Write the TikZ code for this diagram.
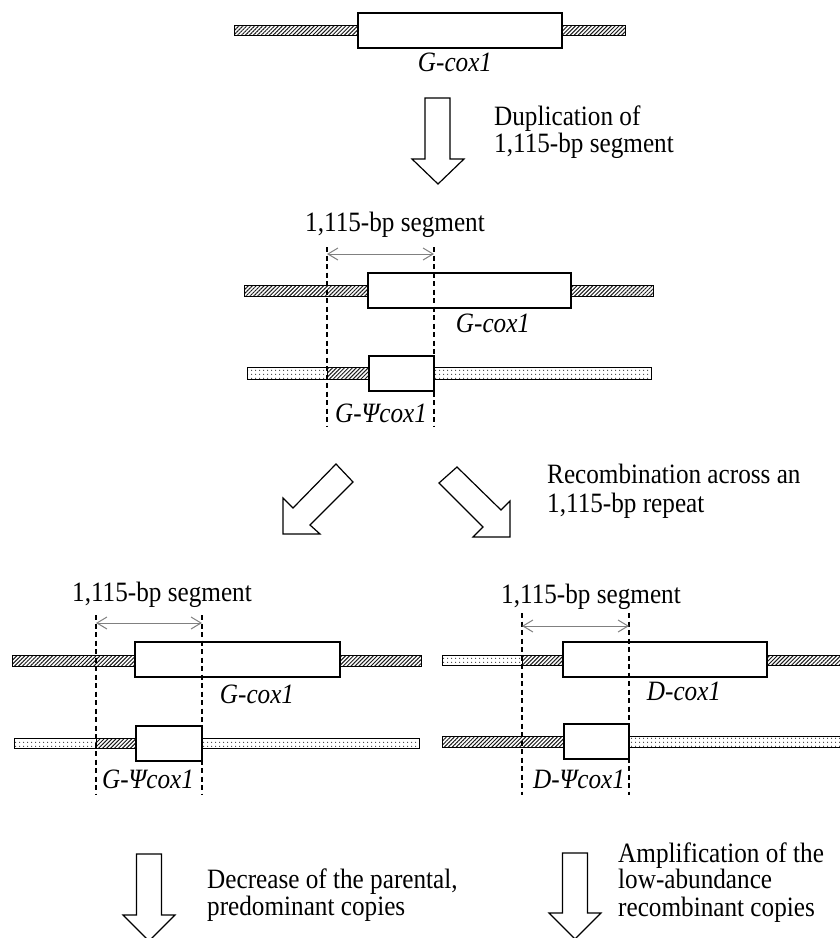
\documentclass[tikz,border=0pt]{standalone}
\usepackage{fontspec}
\setmainfont{Liberation Serif}[FakeStretch=0.9]
\usetikzlibrary{patterns.meta,arrows.meta}
\tikzset{
  hatchfill/.style={pattern={Lines[angle=45,distance=2.8pt,line width=1pt]},pattern color=black!90},
  dotfill/.style={pattern={Dots[distance=4pt,radius=0.75pt]},pattern color=black!75},
  barline/.style={draw=black,line width=1pt},
  genebox/.style={draw=black,fill=white,line width=1.3pt},
  blockarrow/.style={draw=black,fill=white,line width=1.2pt,line join=miter},
  guide/.style={draw=black,dash pattern=on 5pt off 3.5pt,line width=1.1pt},
  span/.style={draw=gray,line width=1pt,{Straight Barb[length=10pt,width=12pt]}-{Straight Barb[length=10pt,width=12pt]}},
  lab/.style={font=\fontsize{28}{30}\selectfont,inner sep=0pt},
  glab/.style={font=\fontsize{28}{30}\selectfont\itshape,inner sep=0pt}
}
\begin{document}
\begin{tikzpicture}[x=1pt,y=-1pt]
\useasboundingbox (0,0) rectangle (840,938);
\clip (0,0) rectangle (840,938);

% ---------- top gene ----------
\draw[barline,hatchfill] (234,25) rectangle (358,35);
\draw[barline,hatchfill] (562,25) rectangle (625,35);
\draw[genebox] (358,13) rectangle (562,48);
\node[glab,anchor=base] (tgl) at (455,71) {G-cox1};

% top down arrow
\draw[blockarrow] (425,98) -- (450,98) -- (450,159) -- (464,159) -- (438,184) -- (412,159) -- (425,159) -- cycle;
\node[lab,anchor=base west] (dup1) at (494,125) {Duplication of};
\node[lab,anchor=base west] (dup2) at (494,152) {1,115-bp segment};

% ---------- middle ----------
\node[lab,anchor=base] (mseg) at (395,231) {1,115-bp segment};
\draw[barline,hatchfill] (244,285) rectangle (368,296);
\draw[barline,hatchfill] (571,285) rectangle (653,296);
\draw[genebox] (368,273) rectangle (571,308);
\node[glab,anchor=base] (mgl) at (493,332) {G-cox1};

\draw[barline,dotfill] (247,367) rectangle (327,379);
\draw[barline,hatchfill] (327,367) rectangle (369,379);
\draw[barline,dotfill] (434,367) rectangle (651,379);
\draw[genebox] (369,356) rectangle (434,391);
\node[glab,anchor=base] (mpl) at (381,422) {G-Ψcox1};

\coordinate (mt1) at (327,247); \coordinate (mb1) at (327,427);
\coordinate (mt2) at (434,247); \coordinate (mb2) at (434,427);
\draw[guide] (mt1) -- (mb1);
\draw[guide] (mt2) -- (mb2);
\coordinate (ma1) at (327,254); \coordinate (ma2) at (434,254);
\draw[span] (ma1) -- (ma2);

% diagonal arrows
\draw[blockarrow] (336,464) -- (353,482) -- (310,525) -- (320,534) -- (283,534) -- (283,498) -- (293,508) -- cycle;
\draw[blockarrow] (457,467) -- (439,483) -- (483,527) -- (473,537) -- (510,537) -- (510,501) -- (501,510) -- cycle;
\node[lab,anchor=base west] (rec1) at (547,483) {Recombination across an};
\node[lab,anchor=base west] (rec2) at (547,512) {1,115-bp repeat};

% ---------- bottom left ----------
\node[lab,anchor=base] (lseg) at (162,601) {1,115-bp segment};
\draw[barline,hatchfill] (12,655) rectangle (135,666);
\draw[barline,hatchfill] (340,655) rectangle (421,666);
\draw[genebox] (135,642) rectangle (340,677);
\node[glab,anchor=base] (lgl) at (257,703) {G-cox1};

\draw[barline,dotfill] (14,738) rectangle (96,748);
\draw[barline,hatchfill] (96,738) rectangle (136,748);
\draw[barline,dotfill] (202,738) rectangle (419,748);
\draw[genebox] (136,726) rectangle (202,761);
\node[glab,anchor=base] (lpl) at (148,788) {G-Ψcox1};

\coordinate (lt1) at (96,615); \coordinate (lb1) at (96,795);
\coordinate (lt2) at (202,615); \coordinate (lb2) at (202,795);
\draw[guide] (lt1) -- (lb1);
\draw[guide] (lt2) -- (lb2);
\coordinate (la1) at (96,623); \coordinate (la2) at (202,623);
\draw[span] (la1) -- (la2);

% ---------- bottom right ----------
\node[lab,anchor=base] (rseg) at (591,603) {1,115-bp segment};
\draw[barline,dotfill] (442,655) rectangle (522,665);
\draw[barline,hatchfill] (522,655) rectangle (563,665);
\draw[barline,hatchfill] (767,655) rectangle (848,665);
\draw[genebox] (563,642) rectangle (767,677);
\node[glab,anchor=base] (rgl) at (684,700) {D-cox1};

\draw[barline,hatchfill] (442,736) rectangle (564,747);
\draw[barline,dotfill] (629,736) rectangle (848,747);
\draw[genebox] (564,724) rectangle (629,759);
\node[glab,anchor=base] (rpl) at (579,788) {D-Ψcox1};

\coordinate (rt1) at (522,613); \coordinate (rb1) at (522,795);
\coordinate (rt2) at (629,613); \coordinate (rb2) at (629,795);
\draw[guide] (rt1) -- (rb1);
\draw[guide] (rt2) -- (rb2);
\coordinate (ra1) at (522,626); \coordinate (ra2) at (629,626);
\draw[span] (ra1) -- (ra2);

% ---------- bottom arrows ----------
\draw[blockarrow] (136.5,854) -- (161.5,854) -- (161.5,915) -- (175,915) -- (149,941) -- (123,915) -- (136.5,915) -- cycle;
\node[lab,anchor=base west] (dec1) at (207,888) {Decrease of the parental,};
\node[lab,anchor=base west] (dec2) at (207,915) {predominant copies};

\draw[blockarrow] (562.5,853) -- (587.5,853) -- (587.5,913) -- (601,913) -- (575,939) -- (549,913) -- (562.5,913) -- cycle;
\node[lab,anchor=base west] (amp1) at (618,862) {Amplification of the};
\node[lab,anchor=base west] (amp2) at (618,888) {low-abundance};
\node[lab,anchor=base west] (amp3) at (618,916) {recombinant copies};
\end{tikzpicture}
\end{document}
